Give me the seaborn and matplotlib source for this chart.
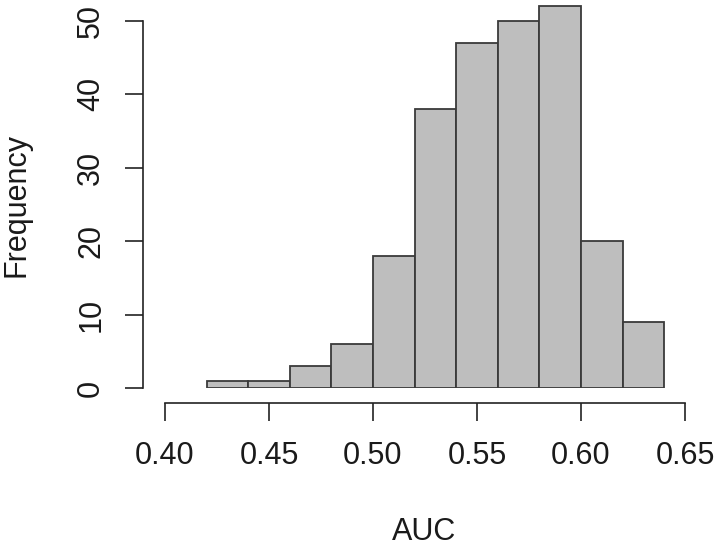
import matplotlib
matplotlib.use("Agg")
import matplotlib.pyplot as plt
import seaborn as sns
import numpy as np

# histogram data (bin edges and counts)
bin_edges = [0.42, 0.44, 0.46, 0.48, 0.50, 0.52, 0.54, 0.56, 0.58, 0.60, 0.62, 0.64]
counts = [1, 1, 3, 6, 18, 38, 47, 50, 52, 20, 9]
x_ticks = [0.40, 0.45, 0.50, 0.55, 0.60, 0.65]
y_ticks = [0, 10, 20, 30, 40, 50]

bin_centers = [(a + b) / 2 for a, b in zip(bin_edges[:-1], bin_edges[1:])]

sns.set_style("ticks")
plt.rcParams["font.family"] = ["Liberation Sans", "DejaVu Sans"]

fig = plt.figure(figsize=(7.2, 5.49), dpi=100)
ax_h = 52.5 * 7.34  # pixels
ax = fig.add_axes([165 / 720, (549 - 388) / 549, 520 / 720, ax_h / 549])

sns.histplot(
    x=bin_centers, weights=counts, bins=bin_edges,
    color="#BEBEBE", edgecolor="#3a3a3a", linewidth=1.3, alpha=1, ax=ax,
)

ax.set_xlim(0.40, 0.65)
ax.set_ylim(0, 52.5)
ax.set_xticks(x_ticks)
ax.set_xticklabels([f"{v:.2f}" for v in x_ticks])
ax.set_yticks(y_ticks)

ax.spines["top"].set_visible(False)
ax.spines["right"].set_visible(False)
ax.spines["left"].set_position(("outward", 15.8))
ax.spines["bottom"].set_position(("outward", 10.8))
ax.spines["left"].set_bounds(0, 50)
ax.spines["bottom"].set_bounds(0.40, 0.65)
for s in ("left", "bottom"):
    ax.spines[s].set_linewidth(1.2)
    ax.spines[s].set_color("#222222")

ax.tick_params(axis="both", length=13, width=1.2, color="#222222",
               labelsize=22, labelcolor="#1a1a1a")
ax.tick_params(axis="x", pad=14)
ax.tick_params(axis="y", pad=13.5, labelrotation=90)
for lab in ax.get_yticklabels():
    lab.set_va("center")

ax.set_xlabel("AUC", fontsize=22, color="#1a1a1a", va="center")
ax.set_ylabel("Frequency", fontsize=22, color="#1a1a1a", va="center")
ax.xaxis.set_label_coords(0.498, (388 - 532) / ax_h)
ax.yaxis.set_label_coords((16 - 165) / 520, (388 - 205) / ax_h)

fig.savefig("out.png", dpi=100)
